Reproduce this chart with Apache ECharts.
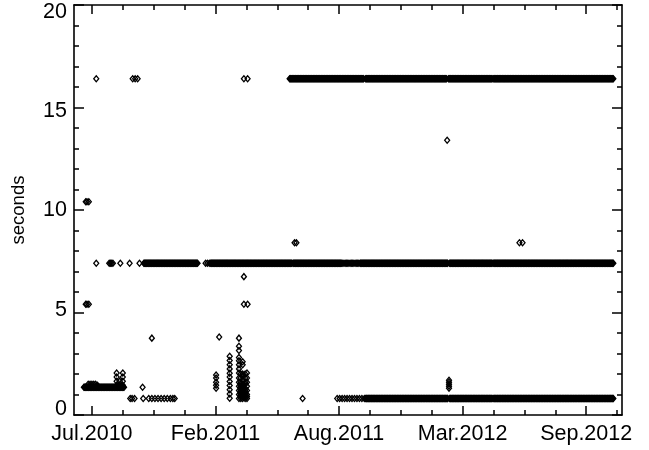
<!DOCTYPE html>
<html><head><meta charset="utf-8">
<script src="https://cdn.jsdelivr.net/npm/echarts@6/dist/echarts.min.js"></script>
<style>html,body{margin:0;padding:0;background:#fff}#c{width:649px;height:450px}</style>
</head><body><div id="c"></div>
<script>
// ---- axis definitions ----
const REF_DATE = '2010-07-20';
const xTickDates = ['2010-07-20','2011-02-05','2011-08-24','2012-03-11','2012-09-27'];
const xTickLabels = ['Jul.2010','Feb.2011','Aug.2011','Mar.2012','Sep.2012'];
const xMinorStepDays = 50;
const xRangeDates = ['2010-06-21','2012-11-24'];
const yTicks = [0, 5, 10, 15, 20];

// ---- data: continuous sampling runs [start, end, seconds, stepDays] ----
const runs16 = [
  ['2011-06-05','2011-10-03',16.4,1],
  ['2011-10-06','2012-02-14',16.4,1],
  ['2012-02-17','2012-04-28',16.4,1],
  ['2012-04-30','2012-11-10',16.4,1]
];
const runs7 = [
  ['2010-10-12','2011-01-07',7.4,1],
  ['2011-01-20','2011-01-26',7.4,3],
  ['2011-01-28','2011-06-09',7.4,1],
  ['2011-06-11','2011-08-27',7.4,1],
  ['2011-08-28','2011-09-27',7.4,2],
  ['2011-09-28','2012-02-16',7.4,1],
  ['2012-02-19','2012-04-28',7.4,1],
  ['2012-04-30','2012-11-10',7.4,1]
];
const runs08 = [
  ['2011-08-21','2011-10-05',0.8,4],
  ['2011-10-06','2012-02-16',0.8,1],
  ['2012-02-19','2012-04-28',0.8,1],
  ['2012-04-30','2012-11-10',0.8,1]
];
const runs13 = [
  ['2010-07-07','2010-09-10',1.35,1]
];

// ---- isolated points [date, seconds] ----
const ptsEarly = [
  ['2010-07-10',10.4],['2010-07-12',10.4],['2010-07-15',10.4],
  ['2010-07-10',5.4],['2010-07-12',5.4],['2010-07-15',5.4],
  ['2010-07-27',16.4],['2010-07-27',7.4],
  ['2010-08-17',7.4],['2010-08-19',7.4],['2010-08-21',7.4],['2010-08-23',7.4],
  ['2010-09-04',7.4],['2010-09-19',7.4],['2010-10-05',7.4],
  ['2010-09-24',16.4],['2010-09-28',16.4],['2010-10-02',16.4],
  ['2010-07-14',1.5],['2010-07-17',1.5],['2010-07-20',1.5],['2010-07-23',1.5],['2010-07-26',1.5],['2010-07-29',1.45],
  ['2010-08-29',1.45],['2010-08-29',1.65],['2010-08-29',1.85],['2010-08-29',2.05],
  ['2010-09-03',1.45],['2010-09-03',1.65],
  ['2010-09-08',1.45],['2010-09-08',1.65],['2010-09-08',1.85],['2010-09-08',2.05],
  ['2010-09-20',0.8],['2010-09-23',0.8],['2010-09-27',0.8],['2010-10-11',0.8],['2010-10-20',0.8],
  ['2010-10-25',0.8],['2010-10-30',0.8],['2010-11-04',0.8],['2010-11-09',0.8],['2010-11-14',0.8],
  ['2010-11-19',0.8],['2010-11-24',0.8],['2010-11-28',0.8],['2010-12-01',0.8],
  ['2010-10-10',1.35],['2010-10-25',3.75]
];
const ptsFeb2011 = [
  ['2011-02-06',1.3],['2011-02-06',1.45],['2011-02-06',1.6],['2011-02-06',1.8],['2011-02-06',1.95],
  ['2011-02-11',3.8],
  ['2011-02-28',0.82],['2011-02-28',1.03],['2011-02-28',1.23],['2011-02-28',1.44],['2011-02-28',1.63],
  ['2011-02-28',1.85],['2011-02-28',2.04],['2011-02-28',2.25],['2011-02-28',2.45],['2011-02-28',2.66],['2011-02-28',2.86],
  ['2011-03-15',0.8],['2011-03-15',1.0],['2011-03-15',1.2],['2011-03-15',1.4],['2011-03-15',1.6],['2011-03-15',1.8],
  ['2011-03-15',2.05],['2011-03-15',2.25],['2011-03-15',2.45],['2011-03-15',2.65],['2011-03-15',2.8],
  ['2011-03-15',3.15],['2011-03-15',3.35],['2011-03-15',3.75],
  ['2011-03-18',0.8],['2011-03-18',0.9],['2011-03-18',1.0],['2011-03-18',1.1],['2011-03-18',1.2],['2011-03-18',1.3],
  ['2011-03-18',1.4],['2011-03-18',1.5],['2011-03-18',1.6],['2011-03-18',1.8],['2011-03-18',2.0],
  ['2011-03-21',0.8],['2011-03-21',0.9],['2011-03-21',1.0],['2011-03-21',1.2],['2011-03-21',1.3],['2011-03-21',1.4],
  ['2011-03-21',1.5],['2011-03-21',1.7],['2011-03-21',1.9],['2011-03-21',2.0],['2011-03-21',2.45],['2011-03-21',2.6],
  ['2011-03-25',0.8],['2011-03-25',0.9],['2011-03-25',1.0],['2011-03-25',1.1],['2011-03-25',1.2],['2011-03-25',1.3],
  ['2011-03-25',1.5],['2011-03-25',1.6],['2011-03-25',1.8],['2011-03-25',2.0],
  ['2011-03-28',0.8],['2011-03-28',0.9],['2011-03-28',1.0],['2011-03-28',1.2],['2011-03-28',1.4],['2011-03-28',1.6],
  ['2011-03-28',1.8],['2011-03-28',2.05],
  ['2011-03-23',5.4],['2011-03-29',5.4],['2011-03-23',16.4],['2011-03-29',16.4],['2011-03-23',6.75]
];
const ptsLater = [
  ['2011-06-13',8.4],['2011-06-16',8.4],
  ['2011-06-26',0.8],
  ['2012-02-15',13.4],
  ['2012-02-18',1.3],['2012-02-18',1.4],['2012-02-18',1.5],['2012-02-18',1.6],['2012-02-18',1.7],
  ['2012-06-11',8.4],['2012-06-16',8.4]
];

// ---- helpers ----
const DAY = 86400000;
const refMs = Date.parse(REF_DATE + 'T00:00:00Z');
function toDay(s) { return Math.round((Date.parse(s + 'T00:00:00Z') - refMs) / DAY); }

const data = [];
[runs16, runs7, runs08, runs13].forEach(group => group.forEach(([a, b, v, st]) => {
  for (let d = toDay(a); d <= toDay(b); d += st) data.push([d, v]);
}));
[ptsEarly, ptsFeb2011, ptsLater].forEach(group => group.forEach(([s, v]) => data.push([toDay(s), v])));

const xMin = toDay(xRangeDates[0]), xMax = toDay(xRangeDates[1]);
const majorX = xTickDates.map(toDay);
const minorX = [];
for (let d = majorX[0]; d <= xMax; d += xMinorStepDays) if (!majorX.includes(d)) minorX.push(d);

const FONT = 'Liberation Sans';
const black = '#000';

function xAx(pos, vals, len, showLine, showLabel) {
  return {
    type: 'value', position: pos, min: xMin, max: xMax, gridIndex: 0,
    axisLine: { show: showLine, onZero: false, lineStyle: { color: black, width: 1.6 } },
    axisTick: { show: true, inside: true, length: len, customValues: vals, lineStyle: { color: black, width: 1.5 } },
    axisLabel: showLabel ? {
      show: true, customValues: majorX, color: black, fontFamily: FONT, fontSize: 21.5, margin: 8,
      formatter: v => xTickLabels[majorX.indexOf(Math.round(v))] || ''
    } : { show: false },
    splitLine: { show: false }
  };
}
function yAx(pos, showLine) {
  return {
    type: 'value', position: pos, min: 0, max: 20, interval: 5, gridIndex: 0,
    axisLine: { show: showLine, onZero: false, lineStyle: { color: black, width: 1.6 } },
    axisTick: { show: true, inside: true, length: 10, lineStyle: { color: black, width: 1.5 } },
    minorTick: { show: true, splitNumber: 5, length: 5, lineStyle: { color: black, width: 1.5 } },
    axisLabel: { show: false },
    splitLine: { show: false }
  };
}

const yLeft = yAx('left', true);
yLeft.name = 'seconds';
yLeft.nameLocation = 'middle';
yLeft.nameRotate = 90;
yLeft.nameGap = 46;
yLeft.nameTextStyle = { color: black, fontFamily: FONT, fontSize: 18.5 };

const chart = echarts.init(document.getElementById('c'), null, { renderer: 'canvas' });
chart.setOption({
  backgroundColor: '#fff',
  animation: false,
  grid: { left: 74, right: 27, top: 5, bottom: 35, containLabel: false, outerBoundsMode: 'none' },
  xAxis: [
    xAx('bottom', majorX, 9, true, true),
    xAx('bottom', minorX, 5, false, false),
    xAx('top', majorX, 9, true, false),
    xAx('top', minorX, 5, false, false)
  ],
  yAxis: [
    yLeft,
    yAx('right', true),
    {
      type: 'value', position: 'left', min: -0.30, max: 20.35, gridIndex: 0,
      axisLine: { show: false }, axisTick: { show: false }, splitLine: { show: false },
      axisLabel: { show: true, customValues: yTicks, color: black, fontFamily: FONT, fontSize: 21.5, margin: 7 }
    }
  ],
  series: [{
    type: 'scatter', xAxisIndex: 0, yAxisIndex: 0,
    symbol: 'diamond', symbolSize: [5, 6],
    itemStyle: { color: 'rgba(0,0,0,0)', borderColor: black, borderWidth: 1.3, opacity: 1 },
    progressive: 0, large: false, silent: true,
    data: data
  }]
});
</script></body></html>
